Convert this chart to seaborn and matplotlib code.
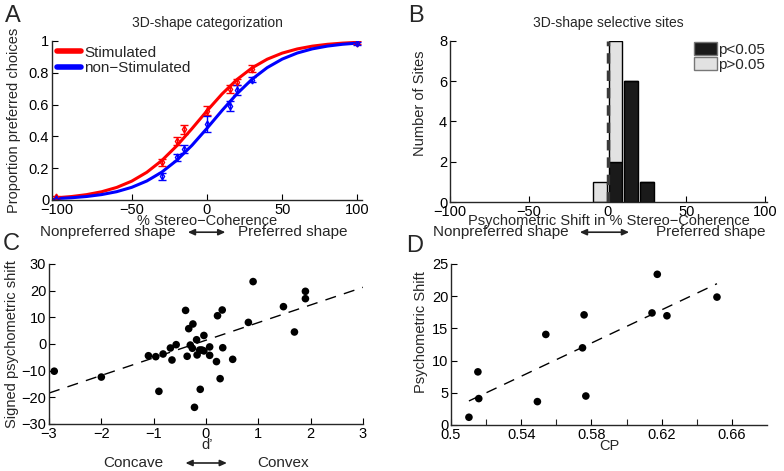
import matplotlib
matplotlib.use("Agg")
import matplotlib.pyplot as plt
from matplotlib.patches import Patch, FancyArrowPatch
from matplotlib.lines import Line2D
import seaborn as sns

# ---------------- Panel A data ----------------
coherence = [-100, -30, -20, -15, 0, 15, 20, 30, 100]
stim_prop = [0.017, 0.237, 0.373, 0.444, 0.56, 0.70, 0.744, 0.826, 0.99]
stim_err = [0.01, 0.022, 0.025, 0.028, 0.028, 0.025, 0.02, 0.02, 0.008]
nostim_prop = [0.005, 0.15, 0.268, 0.32, 0.476, 0.591, 0.69, 0.757, 0.985]
nostim_err = [0.008, 0.022, 0.022, 0.027, 0.05, 0.03, 0.03, 0.015, 0.01]
fit_x = [-100, -90, -80, -70, -60, -50, -40, -30, -20, -10, 0,
         10, 20, 30, 40, 50, 60, 70, 80, 90, 100]
stim_fit = [0.0140, 0.0217, 0.0337, 0.0518, 0.0789, 0.1185, 0.1741, 0.2484,
            0.3414, 0.4484, 0.5605, 0.6667, 0.7582, 0.8310, 0.8853, 0.9237,
            0.9499, 0.9675, 0.9790, 0.9865, 0.9914]
nostim_fit = [0.0090, 0.0141, 0.0219, 0.0340, 0.0522, 0.0796, 0.1194, 0.1754,
              0.2501, 0.3434, 0.4507, 0.5627, 0.6686, 0.7599, 0.8323, 0.8861,
              0.9243, 0.9504, 0.9678, 0.9792, 0.9866]

# ---------------- Panel B data ----------------
bin_centers = [-5, 5, 15, 25]
sig_counts = [0, 2, 6, 1]
nonsig_counts = [1, 6, 0, 0]

# ---------------- Panel C data ----------------
d_prime = [-2.9, -2.0, -1.1, -0.96, -0.9, -0.82, -0.68, -0.65, -0.57, -0.39,
           -0.36, -0.33, -0.30, -0.25, -0.26, -0.22, -0.18, -0.17, -0.12, -0.11,
           -0.08, -0.04, -0.04, 0.07, 0.07, 0.20, 0.22, 0.27, 0.31, 0.32,
           0.51, 0.81, 0.90, 1.48, 1.69, 1.90, 1.90]
signed_shift = [-10.2, -12.4, -4.4, -4.75, -17.75, -3.75, -1.5, -6.0, -0.25, 12.6,
                -4.6, 5.75, -0.4, 7.5, -1.6, -23.75, 1.6, -4.1, -2.25, -17.0,
                -2.25, -2.6, 3.2, -1.1, -4.25, -6.6, 10.6, -13.0, 12.75, -1.4,
                -5.75, 8.1, 23.4, 14.0, 4.5, 17.0, 19.75]
c_fit_x = [-3, 3]
c_fit_y = [-18.4, 21.25]

# ---------------- Panel D data ----------------
cp = [0.5102, 0.5153, 0.5158, 0.5492, 0.554, 0.5749, 0.5758, 0.5768,
      0.6145, 0.6175, 0.623, 0.6515]
psy_shift = [1.2, 8.25, 4.1, 3.63, 14.06, 11.98, 17.1, 4.5,
             17.4, 23.4, 16.96, 19.86]
d_fit_x = [0.5102, 0.6515]
d_fit_y = [3.73, 21.94]
d_ticks = [0.5, 0.54, 0.58, 0.62, 0.66]
d_tick_labels = ["0.5", "0.54", "0.58", "0.62", "0.66"]
d_minor_ticks = [0.52, 0.56, 0.60, 0.64]

# ---------------- style ----------------
sns.set_style("ticks")
plt.rcParams["font.family"] = ["Liberation Sans", "DejaVu Sans"]
plt.rcParams["xtick.direction"] = "in"
plt.rcParams["ytick.direction"] = "in"
plt.rcParams["axes.linewidth"] = 1.0
plt.rcParams["xtick.labelsize"] = 10.5
plt.rcParams["ytick.labelsize"] = 10.5
plt.rcParams["axes.labelsize"] = 10.5

fig = plt.figure(figsize=(7.84, 4.71), dpi=100)
axA = fig.add_axes([0.0663, 0.5754, 0.3954, 0.3376])
axB = fig.add_axes([0.574, 0.5711, 0.404, 0.342])
axC = fig.add_axes([0.0625, 0.0998, 0.4005, 0.3397])
axD = fig.add_axes([0.5753, 0.0977, 0.403, 0.3418])

for ax in (axA, axB, axC, axD):
    sns.despine(ax=ax)
    ax.tick_params(length=4, width=0.8, pad=2, colors="black")

# ---------------- Panel A ----------------
sns.lineplot(x=fit_x, y=stim_fit, color="#ff0000", lw=2.2, ax=axA)
sns.lineplot(x=fit_x, y=nostim_fit, color="#0000ff", lw=2.2, ax=axA)
axA.errorbar(coherence, stim_prop, yerr=stim_err, fmt="d", color="#ff0000",
             ms=3.5, mfc="none", mew=1, capsize=3, elinewidth=1)
axA.errorbar(coherence, nostim_prop, yerr=nostim_err, fmt="d", color="#0000ff",
             ms=3.5, mfc="none", mew=1, capsize=3, elinewidth=1)
axA.set_xlim(-103, 103)
axA.set_ylim(0, 1)
axA.set_xticks([-100, -50, 0, 50, 100])
axA.set_yticks([0, 0.2, 0.4, 0.6, 0.8, 1])
axA.set_yticklabels(["0", "0.2", "0.4", "0.6", "0.8", "1"])
axA.set_xlabel("% Stereo\u2212Coherence")
axA.set_ylabel("Proportion preferred choices")
axA.xaxis.set_label_coords(0.5, -0.085)
axA.yaxis.set_label_coords(-0.10, 0.5)
axA.set_title("3D-shape categorization", fontsize=10, pad=10)
handlesA = [Line2D([], [], color="#ff0000", lw=4),
            Line2D([], [], color="#0000ff", lw=4)]
axA.legend(handlesA, ["Stimulated", "non\u2212Stimulated"], loc="upper left",
           frameon=False, fontsize=11, handlelength=1.6, handletextpad=0.2,
           borderaxespad=0.1, borderpad=0.2, labelspacing=0.1)

# ---------------- Panel B ----------------
axB.bar(bin_centers, sig_counts, width=8.8, color="#1a1a1a", edgecolor="black",
        lw=1, zorder=2)
axB.bar(bin_centers, nonsig_counts, width=8.8, bottom=sig_counts,
        color="#e2e2e2", edgecolor="black", lw=1, zorder=2)
axB.plot([0, 0], [0, 8], color="#3a3a3a", lw=2.5, ls=(0, (3, 2)), zorder=3)
axB.set_xlim(-100, 101)
axB.set_ylim(0, 8)
axB.set_xticks([-100, -50, 0, 50, 100])
axB.set_yticks([0, 2, 4, 6, 8])
axB.set_xlabel("Psychometric Shift in % Stereo\u2212Coherence")
axB.set_ylabel("Number of Sites")
axB.xaxis.set_label_coords(0.5, -0.075)
axB.yaxis.set_label_coords(-0.073, 0.615)
axB.set_title("3D-shape selective sites", fontsize=10, pad=10)
handlesB = [Patch(facecolor="#1a1a1a", edgecolor="#777777"),
            Patch(facecolor="#e2e2e2", edgecolor="#777777")]
axB.legend(handlesB, ["p<0.05", "p>0.05"], loc="upper right", frameon=False,
           fontsize=11, handlelength=1.5, handleheight=0.9, handletextpad=0.1,
           borderaxespad=0.0, borderpad=0.1, labelspacing=0.0)

# ---------------- Panel C ----------------
sns.scatterplot(x=d_prime, y=signed_shift, color="black", s=30,
                edgecolor="none", ax=axC, zorder=3)
axC.plot(c_fit_x, c_fit_y, color="black", lw=1, ls=(0, (8, 6)))
axC.set_xlim(-3, 3)
axC.set_ylim(-30, 30)
axC.set_xticks([-3, -2, -1, 0, 1, 2, 3])
axC.set_yticks([-30, -20, -10, 0, 10, 20, 30])
axC.set_xlabel("d\u2019")
axC.set_ylabel("Signed psychometric shift")
axC.xaxis.set_label_coords(0.503, -0.088)
axC.yaxis.set_label_coords(-0.096, 0.5)

# ---------------- Panel D ----------------
sns.scatterplot(x=cp, y=psy_shift, color="black", s=30, edgecolor="none",
                ax=axD, zorder=3)
axD.plot(d_fit_x, d_fit_y, color="black", lw=1, ls=(0, (8, 6)))
axD.set_xlim(0.5, 0.68)
axD.set_ylim(0, 25)
axD.set_xticks(d_ticks)
axD.set_xticklabels(d_tick_labels)
axD.set_xticks(d_minor_ticks, minor=True)
axD.tick_params(which="minor", direction="in", length=4, width=0.8)
axD.set_yticks([0, 5, 10, 15, 20, 25])
axD.set_xlabel("CP")
axD.set_ylabel("Psychometric Shift")
axD.xaxis.set_label_coords(0.5, -0.085)
axD.yaxis.set_label_coords(-0.073, 0.578)

# ---------------- panel letters ----------------
for lbl, x, y in [("A", 0.006, 0.966), ("B", 0.52, 0.966),
                  ("C", 0.004, 0.482), ("D", 0.518, 0.478)]:
    fig.text(x, y, lbl, fontsize=17, va="center", ha="left")

# ---------------- direction annotations ----------------
def direction(xl, xa0, xa1, xr, y, left, right):
    fig.text(xl, y, left, ha="center", va="center", fontsize=11)
    fig.text(xr, y, right, ha="center", va="center", fontsize=11)
    fig.add_artist(FancyArrowPatch(
        (xa0, y), (xa1, y), transform=fig.transFigure,
        arrowstyle="<|-|>,head_length=4,head_width=1.8",
        color="#222222", lw=1.2))

direction(0.138, 0.236, 0.291, 0.374, 0.507, "Nonpreferred shape", "Preferred shape")
direction(0.639, 0.736, 0.806, 0.907, 0.507, "Nonpreferred shape", "Preferred shape")
direction(0.170, 0.233, 0.293, 0.361, 0.017, "Concave", "Convex")

fig.savefig("out.png", dpi=100)
